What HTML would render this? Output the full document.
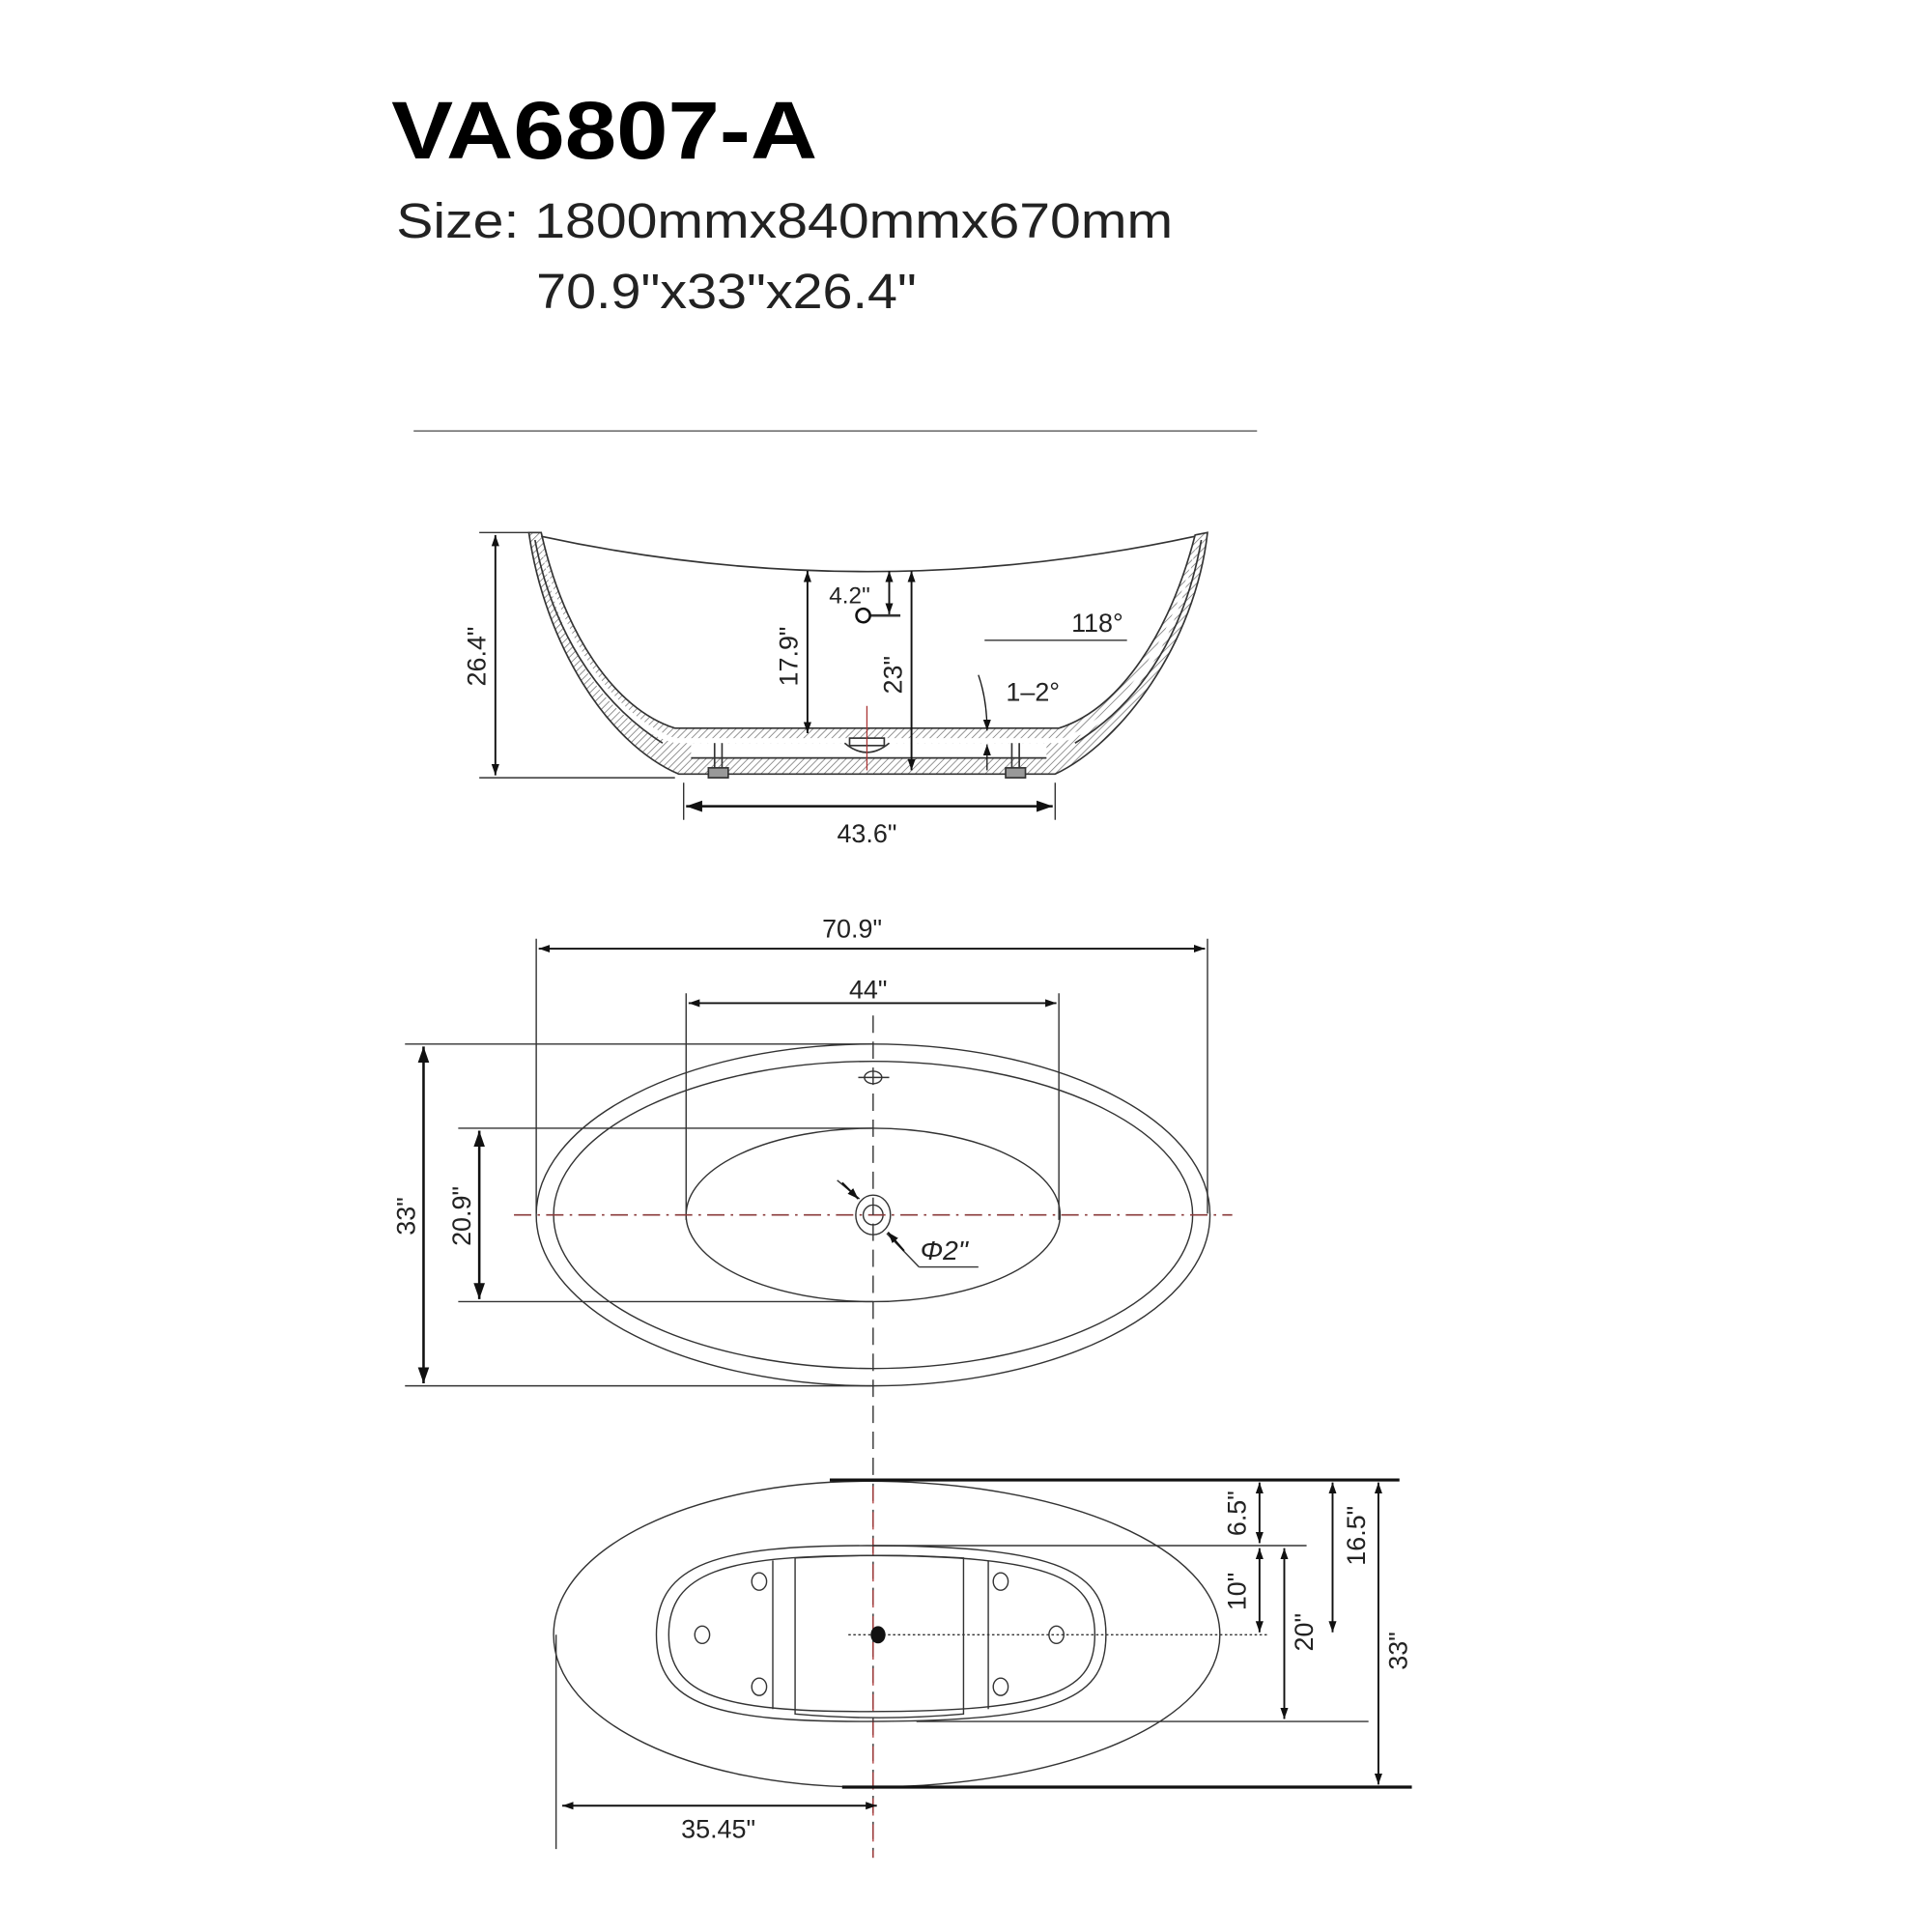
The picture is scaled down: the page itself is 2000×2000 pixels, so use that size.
<!DOCTYPE html>
<html><head><meta charset="utf-8"><style>
html,body{margin:0;padding:0;background:#fff;width:2000px;height:2000px;overflow:hidden}
svg{display:block}
text{font-family:"Liberation Sans",sans-serif;fill:#222}
</style></head><body>
<svg width="2000" height="2000" viewBox="0 0 1560 1560" xmlns="http://www.w3.org/2000/svg">
<defs>
<pattern id="h" width="4" height="4" patternUnits="userSpaceOnUse" patternTransform="rotate(45)"><line x1="0" y1="0" x2="0" y2="4" stroke="#777" stroke-width="1.2"/></pattern>
<marker id="a" viewBox="0 0 10 10" refX="10" refY="5" markerWidth="9" markerHeight="9" orient="auto-start-reverse" markerUnits="userSpaceOnUse"><path d="M0,1.5 L10,5 L0,8.5 Z" fill="#111"/></marker>
<marker id="b" viewBox="0 0 10 10" refX="10" refY="5" markerWidth="13" markerHeight="13" orient="auto-start-reverse" markerUnits="userSpaceOnUse"><path d="M0,1.5 L10,5 L0,8.5 Z" fill="#111"/></marker>
</defs>

<text x="316" y="128" font-size="66" font-weight="bold" style="fill:#000" textLength="344" lengthAdjust="spacingAndGlyphs">VA6807-A</text>
<text x="320" y="192" font-size="40" textLength="627" lengthAdjust="spacingAndGlyphs">Size: 1800mmx840mmx670mm</text>
<text x="433" y="249" font-size="40" textLength="307" lengthAdjust="spacingAndGlyphs">70.9"x33"x26.4"</text>
<line x1="334" y1="348" x2="1015" y2="348" stroke="#666" stroke-width="1.2"/>

<!-- side view -->
<g stroke="#333" stroke-width="1.3" fill="none">
<path d="M427,430 L437,430 C455,510 495,572 545,588 L855,588 C905,572 945,510 965,432 L975,430 C965,520 905,600 852,625 L548,625 C490,600 440,520 427,430 Z" fill="url(#h)"/>
<path d="M437,440 C450,520 490,585 545,600 L855,600 C910,585 950,520 966,440 C945,520 905,578 858,596 L545,596 C497,578 455,520 437,440 Z" fill="#fff" stroke="none"/>
<path d="M437,433 Q700,490 965,433"/>
<path d="M432,436 C445,505 480,565 535,600" />
<path d="M970,436 C958,505 925,565 868,600" />
<path d="M558,600 L845,600 L845,612 L558,612 Z" fill="#fff" stroke="none"/>
<line x1="558" y1="612" x2="845" y2="612"/>
<path d="M682,600 Q700,615 718,600" fill="#fff"/>
<rect x="686" y="596" width="28" height="6" fill="#fff"/>
<line x1="577" y1="600" x2="577" y2="620"/><line x1="583" y1="600" x2="583" y2="620"/>
<line x1="817" y1="600" x2="817" y2="620"/><line x1="823" y1="600" x2="823" y2="620"/>
<rect x="572" y="620" width="16" height="8" fill="#999"/>
<rect x="812" y="620" width="16" height="8" fill="#999"/>
</g>
<line x1="700" y1="570" x2="700" y2="622" stroke="#a33" stroke-width="1"/>
<g stroke="#333" stroke-width="1.1">
<line x1="387" y1="430" x2="427" y2="430"/><line x1="387" y1="628" x2="545" y2="628"/>
<line x1="552" y1="632" x2="552" y2="662"/><line x1="852" y1="632" x2="852" y2="662"/>
<line x1="795" y1="517" x2="910" y2="517"/>
<line x1="697" y1="497" x2="727" y2="497" stroke-width="2"/>
</g>
<circle cx="697" cy="497" r="5.5" fill="#fff" stroke="#111" stroke-width="2"/>
<g stroke="#111" stroke-width="1.5">
<line x1="400" y1="432" x2="400" y2="626" marker-start="url(#a)" marker-end="url(#a)"/>
<line x1="652" y1="461" x2="652" y2="592" marker-start="url(#a)" marker-end="url(#a)"/>
<line x1="736" y1="461" x2="736" y2="622" marker-start="url(#a)" marker-end="url(#a)"/>
<line x1="718" y1="461" x2="718" y2="496" marker-start="url(#a)" marker-end="url(#a)"/>
<line x1="554" y1="651" x2="850" y2="651" stroke-width="2" marker-start="url(#b)" marker-end="url(#b)"/>
<path d="M790,545 Q797,565 797,590" fill="none" stroke-width="1" marker-end="url(#a)"/>
<line x1="797" y1="622" x2="797" y2="601" stroke-width="1" marker-end="url(#a)"/>
</g>
<text font-size="21" transform="translate(392,530) rotate(-90)" text-anchor="middle">26.4"</text>
<text font-size="21" transform="translate(644,530) rotate(-90)" text-anchor="middle">17.9"</text>
<text font-size="21" transform="translate(728,545) rotate(-90)" text-anchor="middle">23"</text>
<text x="686" y="487" font-size="19" text-anchor="middle">4.2"</text>
<text x="886" y="510" font-size="21" text-anchor="middle">118°</text>
<text x="834" y="566" font-size="21" text-anchor="middle">1–2°</text>
<text x="700" y="680" font-size="21" text-anchor="middle">43.6"</text>

<!-- top view -->
<g stroke="#333" stroke-width="1.1" fill="none">
<line x1="433" y1="758" x2="433" y2="980"/><line x1="975" y1="758" x2="975" y2="980"/>
<line x1="554" y1="802" x2="554" y2="985"/><line x1="855" y1="802" x2="855" y2="985"/>
<line x1="327" y1="843" x2="705" y2="843"/><line x1="327" y1="1119" x2="705" y2="1119"/>
<line x1="370" y1="911" x2="705" y2="911"/><line x1="370" y1="1051" x2="705" y2="1051"/>
<ellipse cx="705" cy="981" rx="272" ry="138"/>
<ellipse cx="705" cy="981" rx="258" ry="124"/>
<ellipse cx="705" cy="981" rx="151" ry="70"/>
<ellipse cx="705" cy="870" rx="7" ry="5"/><line x1="693" y1="870" x2="718" y2="870"/>
<ellipse cx="705" cy="981" rx="14" ry="16"/>
<circle cx="705" cy="981" r="8"/>
<line x1="716" y1="996" x2="742" y2="1023"/><line x1="742" y1="1023" x2="790" y2="1023"/>
<line x1="676" y1="953" x2="694" y2="968"/>
</g>
<line x1="415" y1="981" x2="995" y2="981" stroke="#8a3a3a" stroke-width="1.3" stroke-dasharray="14,5,2,5"/>
<line x1="705" y1="820" x2="705" y2="1500" stroke="#333" stroke-width="1.1" stroke-dasharray="14,7"/>
<line x1="705" y1="1200" x2="705" y2="1500" stroke="#a33" stroke-width="1" stroke-dasharray="14,7"/>
<g stroke="#111" stroke-width="1.5">
<line x1="435" y1="766" x2="973" y2="766" marker-start="url(#a)" marker-end="url(#a)"/>
<line x1="556" y1="810" x2="853" y2="810" marker-start="url(#a)" marker-end="url(#a)"/>
<line x1="342" y1="845" x2="342" y2="1117" stroke-width="2" marker-start="url(#b)" marker-end="url(#b)"/>
<line x1="387" y1="913" x2="387" y2="1049" stroke-width="2" marker-start="url(#b)" marker-end="url(#b)"/>
<line x1="680" y1="955" x2="693" y2="968" marker-end="url(#a)"/>
<line x1="730" y1="1010" x2="717" y2="995" marker-end="url(#a)"/>
</g>
<text x="688" y="757" font-size="21" text-anchor="middle">70.9"</text>
<text x="701" y="806" font-size="21" text-anchor="middle">44"</text>
<text font-size="21" transform="translate(335,982) rotate(-90)" text-anchor="middle">33"</text>
<text font-size="21" transform="translate(380,982) rotate(-90)" text-anchor="middle">20.9"</text>
<text x="743" y="1017" font-size="22" font-style="italic">Φ2"</text>

<!-- bottom view -->
<g stroke="#333" stroke-width="1.1" fill="none">
<path d="M447,1320 C447,1250 560,1196 700,1196 C860,1196 985,1250 985,1320 C985,1390 860,1443 700,1443 C560,1443 447,1390 447,1320 Z"/>
<path d="M530,1320 C530,1262 580,1248 700,1248 C860,1248 893,1270 893,1320 C893,1370 860,1390 700,1390 C580,1390 530,1378 530,1320 Z"/>
<path d="M540,1320 C540,1270 585,1256 700,1256 C855,1256 884,1276 884,1320 C884,1364 855,1382 700,1382 C585,1382 540,1370 540,1320 Z"/>
<path d="M642,1258 Q710,1254 778,1258 L778,1384 Q710,1390 642,1384 Z"/>
<line x1="624" y1="1260" x2="624" y2="1380"/><line x1="798" y1="1260" x2="798" y2="1380"/>
<ellipse cx="613" cy="1277" rx="6" ry="7"/><ellipse cx="567" cy="1320" rx="6" ry="7"/><ellipse cx="613" cy="1362" rx="6" ry="7"/>
<ellipse cx="808" cy="1277" rx="6" ry="7"/><ellipse cx="853" cy="1320" rx="6" ry="7"/><ellipse cx="808" cy="1362" rx="6" ry="7"/>
<line x1="705" y1="1248" x2="1055" y2="1248"/>
<line x1="740" y1="1390" x2="1105" y2="1390"/>
<line x1="449" y1="1320" x2="449" y2="1493"/>
</g>
<line x1="685" y1="1320" x2="1025" y2="1320" stroke="#333" stroke-width="1" stroke-dasharray="2,2"/>
<ellipse cx="709" cy="1320" rx="6" ry="7" fill="#111"/>
<line x1="670" y1="1195" x2="1130" y2="1195" stroke="#111" stroke-width="2.5"/>
<line x1="680" y1="1443" x2="1140" y2="1443" stroke="#111" stroke-width="2.5"/>
<g stroke="#111" stroke-width="1.5">
<line x1="1017" y1="1197" x2="1017" y2="1246" marker-start="url(#a)" marker-end="url(#a)"/>
<line x1="1017" y1="1250" x2="1017" y2="1318" marker-start="url(#a)" marker-end="url(#a)"/>
<line x1="1037" y1="1250" x2="1037" y2="1388" marker-start="url(#a)" marker-end="url(#a)"/>
<line x1="1076" y1="1197" x2="1076" y2="1318" marker-start="url(#a)" marker-end="url(#a)"/>
<line x1="1113" y1="1197" x2="1113" y2="1441" marker-start="url(#a)" marker-end="url(#a)"/>
<line x1="454" y1="1458" x2="708" y2="1458" marker-start="url(#a)" marker-end="url(#a)"/>
</g>
<text font-size="21" transform="translate(1006,1222) rotate(-90)" text-anchor="middle">6.5"</text>
<text font-size="21" transform="translate(1006,1285) rotate(-90)" text-anchor="middle">10"</text>
<text font-size="21" transform="translate(1060,1318) rotate(-90)" text-anchor="middle">20"</text>
<text font-size="21" transform="translate(1102,1240) rotate(-90)" text-anchor="middle">16.5"</text>
<text font-size="21" transform="translate(1136,1333) rotate(-90)" text-anchor="middle">33"</text>
<text x="580" y="1484" font-size="21" text-anchor="middle">35.45"</text>
</svg>
</body></html>
